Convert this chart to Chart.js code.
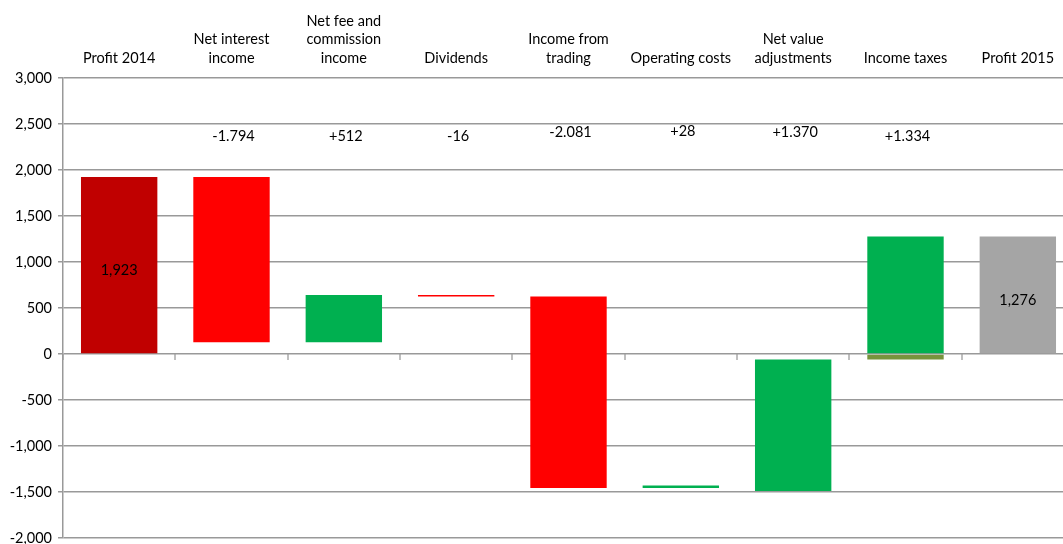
<!DOCTYPE html>
<html>
<head>
<meta charset="utf-8">
<script src="https://cdn.jsdelivr.net/npm/chart.js@4"></script>
<style>
  html, body { margin: 0; padding: 0; background: #fff; overflow: hidden; }
  #wrap { width: 1074px; height: 544px; }
</style>
</head>
<body>
<div id="wrap"><canvas id="Waterfall"></canvas></div>
<script>
// Profit bridge 2014 -> 2015
const categories = [
    'Profit 2014', ['Net interest', 'income'], ['Net fee and', 'commission', 'income'], 'Dividends',
    ['Income from', 'trading'], 'Operating costs', ['Net value', 'adjustments'], 'Income taxes', 'Profit 2015'
];
// floating bars: [from, to]
const barRanges = [
    [0, 1923], [1923, 129], [129, 641], [641, 625], [625, -1456],
    [-1456, -1428], [-1488, -60], [0, 1276], [0, 1276]
];
// part of the income taxes step that sits below zero
const belowZero = [null, null, null, null, null, null, null, [-60, 0], null];
const barColors = ['#C00000', '#FF0000', '#00B050', '#FF0000', '#FF0000', '#00B050', '#00B050', '#00B050', '#A5A5A5'];
const stepLabels = [null, '-1.794', '+512', '-16', '-2.081', '+28', '+1.370', '+1.334', null];
const stepLabelY = [null, 2362, 2362, 2370, 2408, 2418, 2408, 2362, null];
const totalLabels = ['1,923', null, null, null, null, null, null, null, '1,276'];

const FONT = 'Lato, "Open Sans", sans-serif';

const stepText = {
    id: 'stepText',
    afterDatasetsDraw(chart) {
        const ctx = chart.ctx;
        const x = chart.scales.x;
        const y = chart.scales.y;
        const bars = chart.getDatasetMeta(0).data;
        ctx.save();
        ctx.font = '14.5px ' + FONT;
        ctx.fillStyle = '#000';
        ctx.textAlign = 'center';
        ctx.textBaseline = 'middle';
        stepLabels.forEach((t, i) => {
            if (t) ctx.fillText(t, x.getPixelForValue(i) + 2, y.getPixelForValue(stepLabelY[i]));
        });
        totalLabels.forEach((t, i) => {
            if (t) {
                const b = bars[i];
                ctx.fillText(t, b.x, (b.y + b.base) / 2 + 5);
            }
        });
        ctx.restore();
    }
};

new Chart(document.getElementById('Waterfall'), {
    type: 'bar',
    data: {
        labels: categories,
        datasets: [{
            data: barRanges,
            backgroundColor: barColors,
            borderWidth: 0,
            barPercentage: 0.68,
            categoryPercentage: 1
        }, {
            data: belowZero,
            backgroundColor: '#77933C',
            borderWidth: 0,
            barPercentage: 0.68,
            categoryPercentage: 1
        }]
    },
    options: {
        responsive: true,
        maintainAspectRatio: false,
        animation: false,
        layout: { padding: { top: 0, right: 0, bottom: 6, left: 0 } },
        plugins: {
            legend: { display: false },
            tooltip: { enabled: false }
        },
        scales: {
            x: {
                position: 'top',
                stacked: true,
                grid: { display: false, drawTicks: false },
                border: { display: false },
                ticks: {
                    color: '#000',
                    font: { family: FONT, size: 14.5, lineHeight: 1.3 },
                    maxRotation: 0,
                    autoSkip: false,
                    padding: 10
                },
                afterFit(scale) { scale.height = 78; }
            },
            zeroAxis: {
                type: 'category',
                axis: 'x',
                position: { y: 0 },
                labels: categories,
                offset: true,
                grid: { offset: true, drawOnChartArea: false, tickLength: 6, color: '#BFBFBF', lineWidth: 2 },
                border: { display: false },
                ticks: { display: false },
                afterFit(scale) { scale.height = 0; }
            },
            y: {
                min: -2000,
                max: 3000,
                ticks: {
                    stepSize: 500,
                    color: '#000',
                    font: { family: FONT, size: 14.5 },
                    padding: 6,
                    callback: v => v.toLocaleString('en-US')
                },
                grid: { color: '#999', lineWidth: 1.5, tickLength: 5 },
                border: { color: '#999', width: 1.5 },
                afterFit(scale) {
                    scale.width = 63;
                    scale.paddingTop = 0;
                    scale.paddingBottom = 0;
                }
            }
        }
    },
    plugins: [stepText]
});
</script>
</body>
</html>
